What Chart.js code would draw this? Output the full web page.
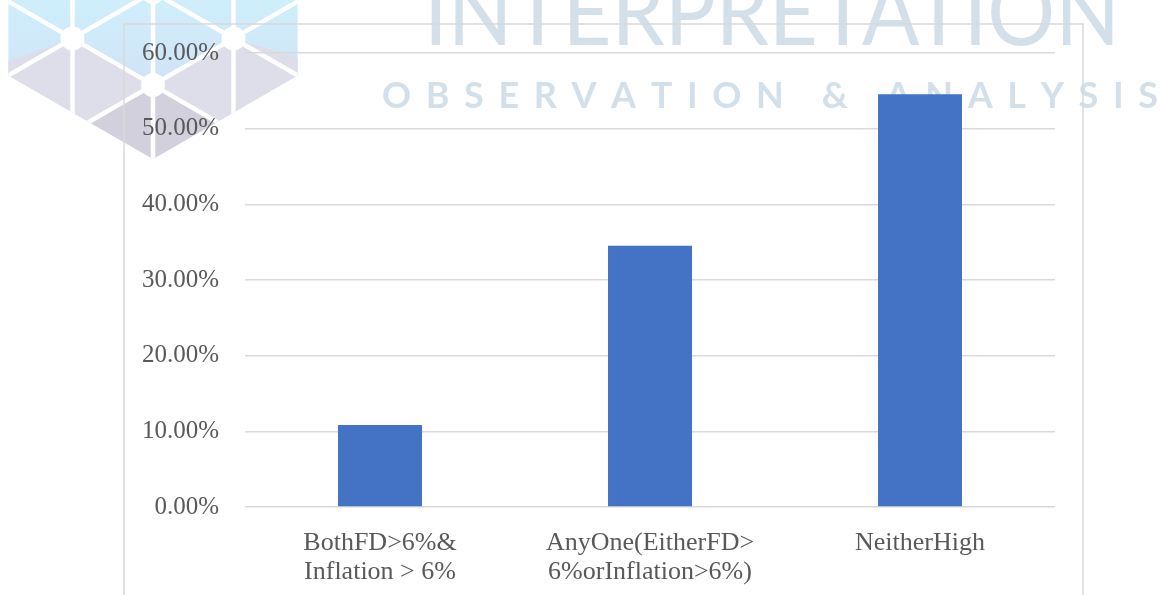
<!DOCTYPE html>
<html>
<head>
<meta charset="utf-8">
<script src="https://cdn.jsdelivr.net/npm/chart.js@4"></script>
<style>
  html, body { margin: 0; padding: 0; background: #fff; }
  #wrap { position: relative; width: 1160px; height: 595px; }
</style>
</head>
<body>
<div id="wrap"><canvas id="grafico"></canvas></div>
<script>
const categorias = [
  ['BothFD>6%&', 'Inflation > 6%'],
  ['AnyOne(EitherFD>', '6%orInflation>6%)'],
  'NeitherHigh'
];
const valores = [10.85, 34.52, 54.54];
const ejeY = { min: 0, max: 60, paso: 10 };

const grafico = document.getElementById('grafico');

// fondo: logo hexagonal + marca de agua + marco del grafico
const fondo = {
  id: 'fondo',
  beforeDraw(chart) {
    const ctx = chart.ctx;
    ctx.save();

    // logo
    const cx = 153, cy = -8, R = 167, r = 93;
    const pt = (rad, deg) => [cx + rad * Math.cos(deg * Math.PI / 180), cy + rad * Math.sin(deg * Math.PI / 180)];
    const angs = [90, 150, 210, 270, 330, 30];
    ctx.beginPath();
    angs.forEach((a, i) => { const p = pt(R, a); i ? ctx.lineTo(p[0], p[1]) : ctx.moveTo(p[0], p[1]); });
    ctx.closePath();
    ctx.clip();
    const g = ctx.createLinearGradient(0, 0, 0, 80);
    g.addColorStop(0, '#cfeefc');
    g.addColorStop(1, '#d1e4f7');
    ctx.fillStyle = g;
    ctx.fillRect(0, -100, 320, 300);
    const poly = (pts, col) => {
      ctx.beginPath();
      pts.forEach((p, i) => i ? ctx.lineTo(p[0], p[1]) : ctx.moveTo(p[0], p[1]));
      ctx.closePath();
      ctx.fillStyle = col;
      ctx.fill();
    };
    poly([[0, 64], pt(r, 150), pt(r, 90), pt(r, 30), [320, 64], [320, 200], [0, 200]], '#dddee9');
    poly([[88, 122], pt(r, 90), [218, 122], pt(R, 90)], '#d1d0dc');
    ctx.strokeStyle = '#fff';
    ctx.lineWidth = 4.5;
    [90, 30, 150].forEach(a => {
      const u = [Math.cos(a * Math.PI / 180), Math.sin(a * Math.PI / 180)];
      const n = [-u[1], u[0]];
      [-1, 0, 1].forEach(k => {
        const ox = cx + k * 80.5 * n[0], oy = cy + k * 80.5 * n[1];
        ctx.beginPath();
        ctx.moveTo(ox - 400 * u[0], oy - 400 * u[1]);
        ctx.lineTo(ox + 400 * u[0], oy + 400 * u[1]);
        ctx.stroke();
      });
    });
    ctx.fillStyle = '#fff';
    [[cx, cy]].concat(angs.map(a => pt(r, a))).forEach(p => {
      ctx.beginPath();
      ctx.arc(p[0], p[1], 12, 0, Math.PI * 2);
      ctx.fill();
    });
    ctx.restore();

    // marca de agua
    ctx.save();
    ctx.fillStyle = '#d3e0ea';
    ctx.textBaseline = 'alphabetic';
    ctx.font = '100px Lato';
    const w1 = ctx.measureText('INTERPRETATION').width;
    ctx.translate(424, 45);
    ctx.scale(696 / w1, 0.93);
    ctx.fillText('INTERPRETATION', 0, 0);
    ctx.restore();

    ctx.save();
    ctx.fillStyle = '#d3e0ea';
    ctx.font = 'bold 36px Lato';
    const sub = 'OBSERVATION & ANALYSIS';
    let total = 0;
    for (const c of sub) total += ctx.measureText(c).width;
    const esp = (776 - total) / (sub.length - 1);
    let x = 382;
    for (const c of sub) {
      ctx.fillText(c, x, 108);
      x += ctx.measureText(c).width + esp;
    }
    ctx.restore();

    // marco
    ctx.save();
    ctx.strokeStyle = '#d9d9d9';
    ctx.lineWidth = 1.5;
    ctx.strokeRect(124, 24, 959, 700);
    ctx.restore();
  }
};

new Chart(grafico, {
  type: 'bar',
  data: {
    labels: categorias,
    datasets: [{
      data: valores,
      backgroundColor: '#4472c4',
      barPercentage: 0.311,
      categoryPercentage: 1
    }]
  },
  options: {
    responsive: true,
    maintainAspectRatio: false,
    animation: false,
    layout: { padding: { left: 124, right: 105, top: 53, bottom: 0 } },
    plugins: {
      legend: { display: false },
      tooltip: { enabled: false }
    },
    scales: {
      y: {
        min: ejeY.min,
        max: ejeY.max,
        border: { display: false },
        grid: { color: '#d9d9d9', lineWidth: 1.5, drawTicks: false },
        ticks: {
          stepSize: ejeY.paso,
          padding: 26,
          color: '#595959',
          font: { family: 'Liberation Serif', size: 25 },
          callback: v => v.toFixed(2) + '%'
        },
        afterFit: s => { s.width = 121; }
      },
      x: {
        border: { display: false },
        grid: { display: false, drawTicks: false },
        ticks: {
          padding: 22,
          maxRotation: 0,
          autoSkip: false,
          color: '#595959',
          font: { family: 'Liberation Serif', size: 26, lineHeight: 1.1 }
        },
        afterFit: s => { s.height = 88; }
      }
    }
  },
  plugins: [fondo]
});
</script>
</body>
</html>
